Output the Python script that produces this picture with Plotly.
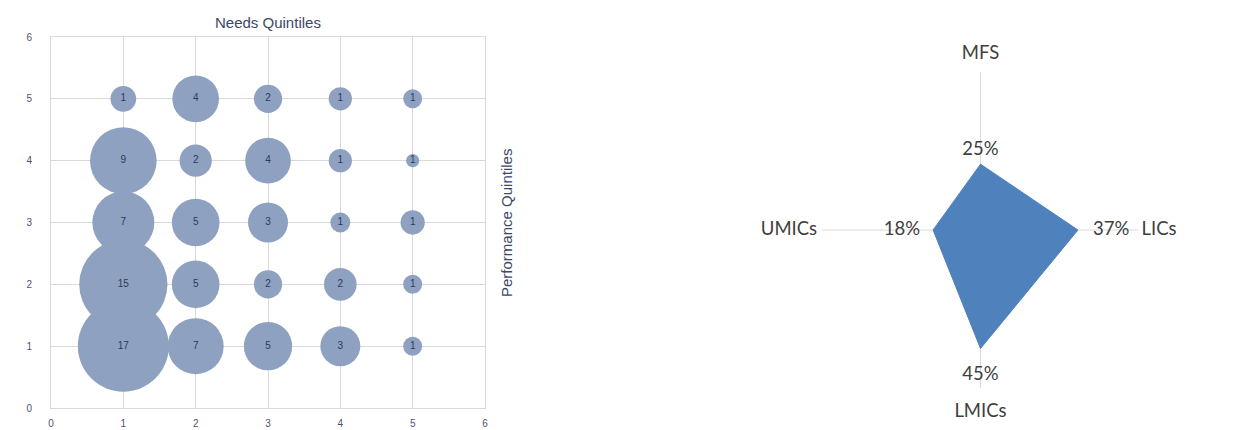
import numpy as np
import plotly.graph_objects as go

# ---------------- data: bubble chart ----------------
need_quintile = [1, 2, 3, 4, 5] * 5
perf_quintile = [5] * 5 + [4] * 5 + [3] * 5 + [2] * 5 + [1] * 5
counts = [1, 4, 2, 1, 1,
          9, 2, 4, 1, 1,
          7, 5, 3, 1, 1,
          15, 5, 2, 2, 1,
          17, 7, 5, 3, 1]
# underlying bubble magnitudes
bubble_weight = [1.36, 4.48, 1.64, 1.11, 0.74,
                 9.13, 2.14, 4.29, 1.11, 0.36,
                 7.89, 4.67, 3.28, 0.82, 1.21,
                 16.0, 4.67, 1.64, 2.19, 0.74,
                 17.0, 6.44, 4.79, 3.28, 0.74]
axis_ticks = [0, 1, 2, 3, 4, 5, 6]

# ---------------- data: radar chart ----------------
groups = ["MFS", "LICs", "LMICs", "UMICs"]
shares = [0.25, 0.37, 0.45, 0.18]
radar_max = 0.6

W, H = 1247, 430
OFF = 8  # page body margin in the browser


def fx(px):
    return (px - OFF) / W


def fy(py):
    return (H - (py - OFF)) / H


BUB_COLOR = "#8fa1c0"
NAVY = "#3b4868"
GRID = "#d9d9d9"
RADAR_FONT = dict(family="Lato, Carlito, Calibri, sans-serif", size=18.5, color="#404040")
positions = ["top center", "middle right", "bottom center", "middle left"]
NO_MARK = dict(color="rgba(0,0,0,0)", line=dict(width=0, color="rgba(0,0,0,0)"))

fig = go.Figure()

w = np.array(bubble_weight)
diam = 91 * np.sqrt(w / w.max())
fig.add_trace(go.Scatter(
    x=need_quintile, y=perf_quintile,
    mode="markers+text",
    marker=dict(size=diam, sizemode="diameter", color=BUB_COLOR, line=dict(width=0), opacity=1),
    text=[str(c) for c in counts],
    textposition="middle center",
    textfont=dict(family="Liberation Sans, Arial", size=10, color="#2c3a5c"),
    showlegend=False, hoverinfo="skip",
    xaxis="x", yaxis="y",
))

# radar fill
fig.add_trace(go.Scatterpolar(
    r=shares + shares[:1], theta=groups + groups[:1],
    mode="lines", fill="toself",
    fillcolor="#4f81bd", line=dict(color="#4f81bd", width=1),
    showlegend=False, hoverinfo="skip",
))
# radar value labels
fig.add_trace(go.Scatterpolar(
    r=shares, theta=groups,
    mode="markers+text",
    marker=dict(size=[6, 22.4, 27, 19.2], **NO_MARK),
    text=[f"{v:.0%}" for v in shares],
    textposition=positions,
    textfont=RADAR_FONT,
    cliponaxis=False,
    showlegend=False, hoverinfo="skip",
))
# category labels at the end of each spoke
fig.add_trace(go.Scatterpolar(
    r=[radar_max] * len(groups), theta=groups,
    mode="markers+text",
    marker=dict(size=[12.3, 3.2, 22, 7], **NO_MARK),
    text=groups,
    textposition=positions,
    textfont=RADAR_FONT,
    cliponaxis=False,
    showlegend=False, hoverinfo="skip",
))

x0, x1 = fx(51), fx(485)
y0, y1 = fy(408), fy(37)

axis_common = dict(
    range=[0, 6], tickvals=axis_ticks, ticks="",
    showgrid=True, gridcolor=GRID, gridwidth=1,
    zeroline=False, showline=True, linecolor=GRID, linewidth=1, mirror=True,
    tickfont=dict(family="Liberation Sans, Arial", size=10, color="#4a5570"),
    fixedrange=True, automargin=False,
)

cx, cy, R = 980.5, 230, 158
fig.update_layout(
    width=W, height=H,
    margin=dict(l=0, r=0, t=0, b=0, pad=0, autoexpand=False),
    paper_bgcolor="white", plot_bgcolor="white",
    xaxis=dict(domain=[x0, x1], anchor="y", ticklabelstandoff=6, **axis_common),
    yaxis=dict(domain=[y0, y1], anchor="x", ticklabelstandoff=16, **axis_common),
    polar=dict(
        domain=dict(x=[fx(cx - R), fx(cx + R)], y=[fy(cy + R), fy(cy - R)]),
        bgcolor="white",
        radialaxis=dict(visible=False, range=[0, radar_max], showgrid=False),
        angularaxis=dict(
            rotation=90, direction="clockwise",
            showline=False, showgrid=True, gridcolor=GRID, gridwidth=1,
            ticks="", showticklabels=False,
        ),
    ),
    annotations=[
        dict(text="Needs Quintiles", x=(x0 + x1) / 2, y=fy(22), xref="paper", yref="paper",
             showarrow=False, xanchor="center", yanchor="middle",
             font=dict(family="Liberation Sans, Arial", size=15, color=NAVY)),
        dict(text="Performance Quintiles", x=fx(506), y=fy(223), xref="paper", yref="paper",
             showarrow=False, xanchor="center", yanchor="middle", textangle=-90,
             font=dict(family="Liberation Sans, Arial", size=15, color=NAVY)),
    ],
)

fig.write_html("out.html")
